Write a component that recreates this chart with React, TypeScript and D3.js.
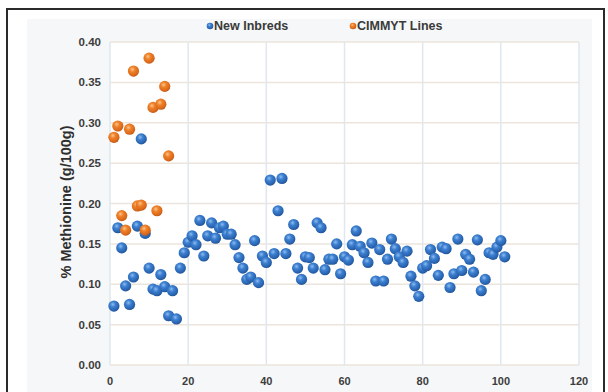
import React from "react";
import * as d3 from "d3";

// Methionine content (g/100g) by entry number
const inbredValues: number[] = [
  0.073, 0.170, 0.145, 0.098, 0.075, 0.109, 0.172, 0.280, 0.163, 0.120,
  0.094, 0.092, 0.112, 0.097, 0.061, 0.092, 0.057, 0.120, 0.139, 0.152,
  0.160, 0.149, 0.179, 0.135, 0.160, 0.176, 0.157, 0.170, 0.172, 0.162,
  0.162, 0.149, 0.133, 0.120, 0.106, 0.109, 0.154, 0.102, 0.135, 0.127,
  0.229, 0.138, 0.191, 0.231, 0.138, 0.156, 0.174, 0.120, 0.106, 0.134,
  0.133, 0.120, 0.176, 0.170, 0.118, 0.131, 0.131, 0.150, 0.113, 0.134,
  0.130, 0.149, 0.166, 0.147, 0.139, 0.127, 0.151, 0.104, 0.143, 0.104,
  0.131, 0.156, 0.144, 0.134, 0.127, 0.141, 0.110, 0.098, 0.085, 0.120,
  0.123, 0.143, 0.132, 0.111, 0.146, 0.144, 0.096, 0.113, 0.156, 0.117,
  0.137, 0.131, 0.115, 0.155, 0.092, 0.106, 0.139, 0.137, 0.146, 0.154,
  0.134,
];

const cimmytValues: number[] = [
  0.282, 0.296, 0.185, 0.167, 0.292, 0.364, 0.197, 0.198, 0.167, 0.380,
  0.319, 0.191, 0.323, 0.345, 0.259,
];

const xTicks: number[] = [0, 20, 40, 60, 80, 100, 120];
const yTicks: number[] = [0, 0.05, 0.1, 0.15, 0.2, 0.25, 0.3, 0.35, 0.4];

const seriesNames: string[] = ["New Inbreds", "CIMMYT Lines"];

const W = 608;
const H = 392;
const plot = { left: 110, right: 579, top: 42, bottom: 365 };

export default function App() {
  const x = d3.scaleLinear().domain([0, 120]).range([plot.left, plot.right]);
  const y = d3.scaleLinear().domain([0, 0.4]).range([plot.bottom, plot.top]);

  const inbreds = inbredValues.map((v, i) => ({ x: i + 1, y: v }));
  const cimmyt = cimmytValues.map((v, i) => ({ x: i + 1, y: v }));

  const font = "'Liberation Sans', Arial, sans-serif";
  const r = 5.6;

  return (
    <svg
      width={W}
      height={H}
      style={{ position: "absolute", left: 0, top: 0, background: "#ffffff" }}
      fontFamily={font}
    >
      <defs>
        <radialGradient id="gBlue" cx="0.4" cy="0.35" r="0.7">
          <stop offset="0" stopColor="#8dbcf0" />
          <stop offset="0.35" stopColor="#3c7fd0" />
          <stop offset="0.8" stopColor="#2761ad" />
          <stop offset="1" stopColor="#1c4a88" />
        </radialGradient>
        <radialGradient id="gOrange" cx="0.4" cy="0.35" r="0.7">
          <stop offset="0" stopColor="#fbc48a" />
          <stop offset="0.35" stopColor="#ee8128" />
          <stop offset="0.8" stopColor="#d9661a" />
          <stop offset="1" stopColor="#b04f10" />
        </radialGradient>
      </defs>

      {/* outer frame and chart area */}
      <rect x={7} y={9} width={597} height={H + 10} fill="#ffffff" stroke="#2a2a2a" strokeWidth={2} />
      <rect x={27} y={19} width={565} height={H} fill="#f6f7f8" />
      <rect
        x={plot.left}
        y={plot.top}
        width={plot.right - plot.left}
        height={plot.bottom - plot.top}
        fill="#ffffff"
      />

      {/* gridlines */}
      {yTicks.map((t) => (
        <line
          key={"hy" + t}
          x1={plot.left}
          x2={plot.right}
          y1={y(t)}
          y2={y(t)}
          stroke="#ece5de"
          strokeWidth={1.5}
        />
      ))}
      {xTicks.map((t) => (
        <line
          key={"vx" + t}
          x1={x(t)}
          x2={x(t)}
          y1={plot.top}
          y2={plot.bottom}
          stroke="#dfe8ef"
          strokeWidth={1.5}
        />
      ))}

      {/* tick labels */}
      {yTicks.map((t) => (
        <text
          key={"ty" + t}
          x={101}
          y={y(t)}
          dy="0.35em"
          textAnchor="end"
          fontSize={11.5}
          fontWeight="bold"
          fill="#3d3d3d"
        >
          {d3.format(".2f")(t)}
        </text>
      ))}
      {xTicks.map((t) => (
        <text
          key={"tx" + t}
          x={x(t)}
          y={385}
          textAnchor="middle"
          fontSize={11}
          fontWeight="bold"
          fill="#3d3d3d"
        >
          {t}
        </text>
      ))}

      {/* axis title */}
      <text
        transform={`translate(71,202) rotate(-90)`}
        textAnchor="middle"
        fontSize={14.5}
        fontWeight="bold"
        fill="#2e2e2e"
      >
        % Methionine (g/100g)
      </text>

      {/* points */}
      {inbreds.map((d, i) => (
        <circle key={"b" + i} cx={x(d.x)} cy={y(d.y)} r={r} fill="url(#gBlue)" />
      ))}
      {cimmyt.map((d, i) => (
        <circle key={"o" + i} cx={x(d.x)} cy={y(d.y)} r={r} fill="url(#gOrange)" />
      ))}

      {/* legend */}
      <circle cx={210} cy={26} r={3.3} fill="url(#gBlue)" />
      <text x={214} y={26} dy="0.35em" fontSize={12.5} fontWeight="bold" fill="#3a3a3a">
        {seriesNames[0]}
      </text>
      <circle cx={353} cy={26} r={3.3} fill="url(#gOrange)" />
      <text x={357} y={26} dy="0.35em" fontSize={12.5} fontWeight="bold" fill="#3a3a3a">
        {seriesNames[1]}
      </text>
    </svg>
  );
}
